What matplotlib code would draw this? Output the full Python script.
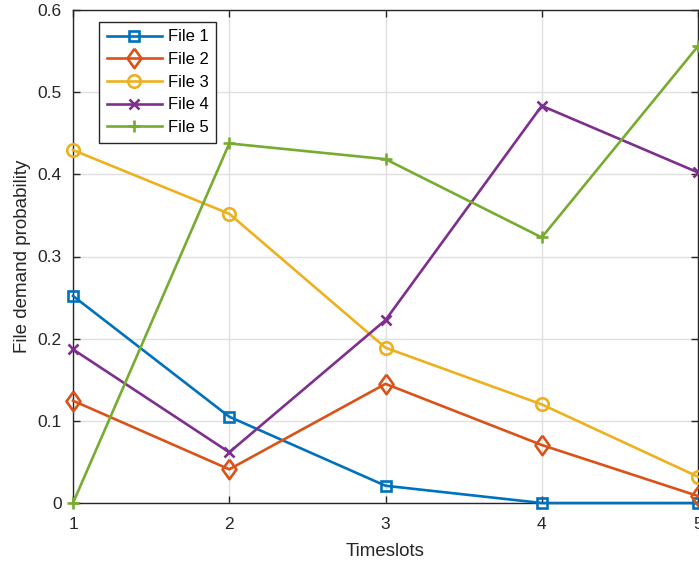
import matplotlib.pyplot as plt

plt.rcParams['font.family'] = ['Liberation Sans', 'DejaVu Sans']

timeslots = [1, 2, 3, 4, 5]
file1 = [0.252, 0.105, 0.021, 0.0, 0.0]
file2 = [0.1245, 0.041, 0.145, 0.0706, 0.0085]
file3 = [0.4295, 0.352, 0.189, 0.120, 0.032]
file4 = [0.187, 0.0617, 0.2226, 0.4834, 0.4023]
file5 = [0.0, 0.4376, 0.4185, 0.3232, 0.556]

names = ['File 1', 'File 2', 'File 3', 'File 4', 'File 5']
colors = ['#0072BD', '#D95319', '#EDB120', '#7E2F8E', '#77AC30']
# slightly tall diamond, like the one in the picture
diamond = [(0, 1), (0.72, 0), (0, -1), (-0.72, 0), (0, 1)]
markers = ['s', diamond, 'o', 'x', '+']
msizes = [7.5, 14, 9, 7, 9]


def main():
    fig = plt.figure(figsize=(6.99, 5.67), dpi=100)
    ax = fig.add_axes([73 / 699, 64 / 567, 625 / 699, 493 / 567])

    series = [file1, file2, file3, file4, file5]
    for y, name, c, m, ms in zip(series, names, colors, markers, msizes):
        ax.plot(timeslots, y, color=c, marker=m, markersize=ms, linewidth=1.9,
                markerfacecolor='none', markeredgewidth=1.9, label=name,
                clip_on=False, zorder=3)

    ax.set_xlim(1, 5)
    ax.set_ylim(0, 0.6)
    ax.set_xticks([1, 2, 3, 4, 5])
    ax.set_yticks([0, 0.1, 0.2, 0.3, 0.4, 0.5, 0.6])
    ax.set_yticklabels(['0', '0.1', '0.2', '0.3', '0.4', '0.5', '0.6'])
    ax.grid(True, color='#e0e0e0', linewidth=1)
    ax.set_axisbelow(True)
    ax.tick_params(direction='in', top=True, right=True, labelsize=12.5,
                   colors='#262626', length=5, width=1)
    ax.tick_params(axis='x', pad=10)
    ax.tick_params(axis='y', pad=8)
    for s in ax.spines.values():
        s.set_color('#262626')
        s.set_linewidth(1)

    ax.set_xlabel('Timeslots', fontsize=13.5, color='#262626', labelpad=8)
    ax.set_ylabel('File demand probability', fontsize=13.5, color='#262626',
                  labelpad=5)

    leg = ax.legend(loc='upper left', bbox_to_anchor=(0.042, 0.9757), fontsize=12,
                    borderaxespad=0, handlelength=3.3, fancybox=False,
                    framealpha=1, edgecolor='#262626', borderpad=0.45,
                    labelspacing=0.46, handletextpad=0.35)
    leg.get_frame().set_linewidth(1)

    fig.savefig('out.png', dpi=100)


if __name__ == "__main__":
    main()
